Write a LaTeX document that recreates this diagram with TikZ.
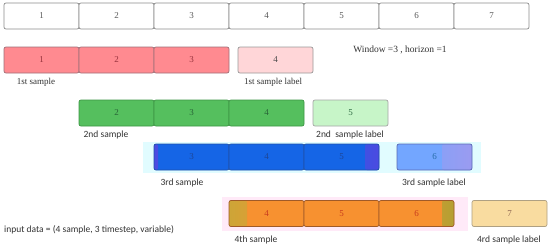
\documentclass[tikz,border=0pt]{standalone}
\usepackage{fontspec}
\setmainfont{Liberation Serif}
\newfontfamily\labfont{Carlito}
\definecolor{cRed}{HTML}{FF8A90}
\definecolor{cRedD}{HTML}{A07078}
\definecolor{cRedT}{HTML}{96323C}
\definecolor{cPink}{HTML}{FFD6D8}
\definecolor{cGreen}{HTML}{55BF5E}
\definecolor{cGreenD}{HTML}{3C9644}
\definecolor{cGreenT}{HTML}{286437}
\definecolor{cLGreen}{HTML}{C7F5C8}
\definecolor{cLGreenT}{HTML}{326E46}
\definecolor{cBlue}{HTML}{1565E6}
\definecolor{cBlueD}{HTML}{1E50AA}
\definecolor{cBlueT}{HTML}{1E4696}
\definecolor{cLBlue}{HTML}{73A6FF}
\definecolor{cLBlueD}{HTML}{5A69B4}
\definecolor{cLBlueT}{HTML}{286EAA}
\definecolor{cOrange}{HTML}{F79130}
\definecolor{cOrangeD}{HTML}{A05A28}
\definecolor{cOrangeT}{HTML}{C83C1E}
\definecolor{cWheat}{HTML}{F9DCA0}
\definecolor{cWheatD}{HTML}{AFA082}
\definecolor{cWheatT}{HTML}{8C6450}
\definecolor{cPurple}{HTML}{4B4BE1}
\definecolor{cLav}{HTML}{9B9BF0}
\definecolor{cOliveA}{HTML}{CDA537}
\definecolor{cOliveB}{HTML}{B4A032}
\definecolor{cCyanBg}{HTML}{E1FCFF}
\definecolor{cPinkBg}{HTML}{FFEAF8}
\begin{document}
\begin{tikzpicture}[x=1pt,y=-1pt,
  cell/.style={rectangle,rounded corners=2pt,minimum width=75pt,minimum height=26pt,inner sep=0pt,line width=0.7pt,font=\fontsize{9}{10}\selectfont},
  topcell/.style={cell,draw=black!45,fill=white,text=black!65},
  redcell/.style={cell,draw=cRedD,fill=cRed,text=cRedT},
  pinkcell/.style={cell,draw=black!40,fill=cPink,text=black!70},
  greencell/.style={cell,draw=cGreenD,fill=cGreen,text=cGreenT},
  lgreencell/.style={cell,draw=black!35,fill=cLGreen,text=cLGreenT},
  bluecell/.style={cell,draw=cBlueD,fill=cBlue,text=cBlueT},
  lbluecell/.style={cell,draw=cLBlueD,fill=cLBlue,text=cLBlueT},
  orangecell/.style={cell,draw=cOrangeD,fill=cOrange,text=cOrangeT},
  wheatcell/.style={cell,draw=cWheatD,fill=cWheat,text=cWheatT},
  serlab/.style={font=\fontsize{9}{10}\selectfont,text=black!80,inner sep=0pt},
  sanlab/.style={font=\labfont\fontsize{9.5}{10}\selectfont,text=black!80,inner sep=0pt},
  leftpurple/.style={path picture={\fill[cPurple] (path picture bounding box.north west) rectangle ([xshift=4pt]path picture bounding box.south west);}},
  rightpurple/.style={path picture={\shade[left color=cBlue,right color=cPurple] ([xshift=-14pt]path picture bounding box.north east) rectangle (path picture bounding box.south east);}},
  rightlav/.style={path picture={\shade[left color=cLBlue,right color=cLav] ([xshift=-30pt]path picture bounding box.north east) rectangle (path picture bounding box.south east);}},
  leftolive/.style={path picture={\shade[left color=cOliveA,right color=cOrange] (path picture bounding box.north west) rectangle ([xshift=18pt]path picture bounding box.south west);}},
  rightolive/.style={path picture={\shade[left color=cOrange,right color=cOliveB] ([xshift=-12pt]path picture bounding box.north east) rectangle (path picture bounding box.south east);}}
]
\useasboundingbox (0,0) rectangle (550,247);
\fill[white] (0,0) rectangle (550,247);
% backdrops
\fill[cCyanBg] (143,142) rectangle (481,173);
\fill[cPinkBg] (222,197) rectangle (468,231);
% top row
\foreach \i in {1,...,7}{
  \node[topcell] (t\i) at ({4+37.5+75*(\i-1)},16) {\i};
}
% row 1
\node[redcell] (a1) at (41.5,60) {1};
\node[redcell] (a2) at (116.5,60) {2};
\node[redcell] (a3) at (191.5,60) {3};
\node[pinkcell] (al) at (275.5,60) {4};
\node[serlab] (as) at (36,82) {1st sample};
\node[serlab] (asl) at (273,82) {1st sample label};
\node[serlab,font=\fontsize{9.5}{10}\selectfont] (win) at (400,50) {Window =3 , horizon =1};
% row 2
\node[greencell] (b1) at (116.5,113) {2};
\node[greencell] (b2) at (191.5,113) {3};
\node[greencell] (b3) at (266.5,113) {4};
\node[lgreencell] (bl) at (350.5,113) {5};
\node[sanlab] (bs) at (106,135) {2nd sample};
\node[sanlab] (bsl) at (350,135) {2nd\ \ sample label};
% row 3
\node[bluecell,leftpurple] (c1) at (191.5,157) {3};
\node[bluecell] (c2) at (266.5,157) {4};
\node[bluecell,rightpurple] (c3) at (341.5,157) {5};
\node[lbluecell,rightlav] (cl) at (434.5,157) {6};
\node[sanlab] (cs) at (182,183) {3rd sample};
\node[sanlab] (csl) at (434,183) {3rd sample label};
% row 4
\node[orangecell,leftolive] (d1) at (266.5,213.5) {4};
\node[orangecell] (d2) at (341.5,213.5) {5};
\node[orangecell,rightolive] (d3) at (416.5,213.5) {6};
\node[wheatcell] (dl) at (509.5,213.5) {7};
\node[sanlab] (ds) at (256,240) {4th sample};
\node[sanlab] (dsl) at (509,240) {4rd sample label};
\node[sanlab,anchor=west] (inp) at (4,230) {input data = (4 sample, 3 timestep, variable)};
\end{tikzpicture}
\end{document}
